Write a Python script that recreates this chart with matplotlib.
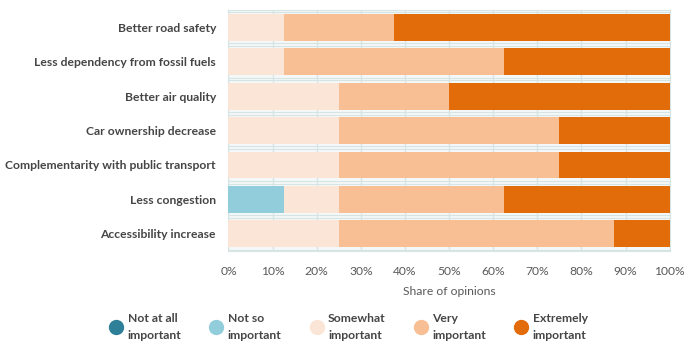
import matplotlib
matplotlib.use("Agg")
import matplotlib.pyplot as plt
from matplotlib.lines import Line2D
import numpy as np

plt.rcParams['font.family'] = ['Lato', 'DejaVu Sans']

categories = [
    "Better road safety",
    "Less dependency from fossil fuels",
    "Better air quality",
    "Car ownership decrease",
    "Complementarity with public transport",
    "Less congestion",
    "Accessibility increase",
]
levels = ["Not at all\nimportant", "Not so\nimportant", "Somewhat\nimportant",
          "Very\nimportant", "Extremely\nimportant"]
not_at_all = [0, 0, 0, 0, 0, 0, 0]
not_so = [0, 0, 0, 0, 0, 12.5, 0]
somewhat = [12.5, 12.5, 25, 25, 25, 12.5, 25]
very = [25, 50, 25, 50, 50, 37.5, 62.5]
extremely = [62.5, 37.5, 50, 25, 25, 37.5, 12.5]
colors = ["#2e7f98", "#92cddc", "#fbe5d6", "#f8bf94", "#e26b0a"]

series = [not_at_all, not_so, somewhat, very, extremely]

fig = plt.figure(figsize=(6.84, 3.50), dpi=100)
ax = fig.add_axes([0.334, 0.283, 0.645, 0.688])

y = np.arange(len(categories))
left = np.zeros(len(categories))
for vals, col in zip(series, colors):
    vals = np.array(vals, dtype=float)
    ax.barh(y, vals, left=left, height=0.78, color=col, zorder=3)
    left += vals

ax.set_xlim(0, 100)
ax.set_ylim(len(categories) - 0.5, -0.5)
ax.set_yticks(y)
ax.set_yticklabels(categories, fontsize=8.7, color="#454545", fontweight="bold")
ax.set_xticks(np.arange(0, 101, 10))
ax.set_xticklabels([f"{v}%" for v in range(0, 101, 10)], fontsize=8.7, color="#595959")
ax.tick_params(axis="y", length=0, pad=9)
ax.tick_params(axis="x", length=0, pad=11)
ax.set_xlabel("Share of opinions", fontsize=8.7, color="#595959", labelpad=6)

# light grid: vertical at each 10 %, horizontal between bars
for xv in np.arange(0, 101, 10):
    ax.axvline(xv, color="#d6e4e4", lw=1.0, zorder=1)
for yb in np.arange(-0.5, len(categories), 1.0):
    ax.axhline(yb - 0.04, color="#d6e4e4", lw=0.8, zorder=1)
    ax.axhline(yb + 0.04, color="#d6e4e4", lw=0.8, zorder=1)
ax.set_facecolor("#f4f8f8")
for s in ax.spines.values():
    s.set_color("#d6e4e4")
    s.set_linewidth(0.8)

handles = [Line2D([], [], marker="o", linestyle="", markersize=10,
                  markerfacecolor=c, markeredgecolor=c) for c in colors]
leg = fig.legend(handles, levels, loc="lower center", bbox_to_anchor=(0.51, -0.005),
                 ncol=5, frameon=False, fontsize=8.7, labelcolor="#454545",
                 columnspacing=2.4, handletextpad=0.45, handlelength=1.0)
for t in leg.get_texts():
    t.set_fontweight("bold")
    t.set_linespacing(1.65)

fig.savefig("out.png", dpi=100)
